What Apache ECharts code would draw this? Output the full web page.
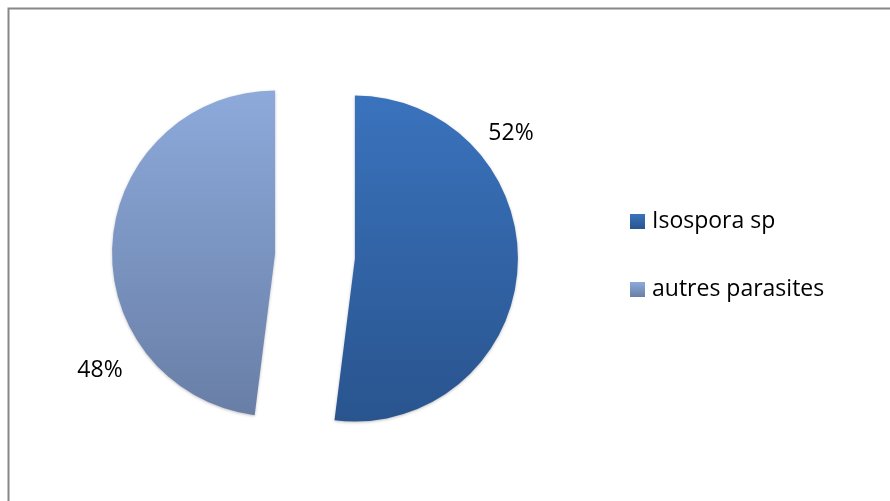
<!DOCTYPE html>
<html>
<head>
<meta charset="utf-8">
<script src="https://cdn.jsdelivr.net/npm/echarts@6/dist/echarts.min.js"></script>
<style>
  html, body { margin: 0; padding: 0; background: #fff; }
  #chart { width: 890px; height: 501px; }
</style>
</head>
<body>
<div id="chart"></div>
<script>
// Parasite shares
const categories = ['Isospora sp', 'autres parasites'];
const shares = [52, 48];

// vertical gradients per slice (top -> bottom)
const sliceColors = [
  ['#3A73BD', '#29548E'],
  ['#8DAADB', '#687EA6']
];
// anchors for the percentage texts
const labelAnchors = [
  { x: 511, y: 133 },
  { x: 100, y: 370 }
];

const FONT = '"Open Sans", Lato, sans-serif';

const chart = echarts.init(document.getElementById('chart'), null, { renderer: 'canvas' });

const data = categories.map((name, i) => ({
  name: name,
  value: shares[i],
  selected: true,
  itemStyle: {
    color: new echarts.graphic.LinearGradient(0, 0, 0, 1, [
      { offset: 0, color: sliceColors[i][0] },
      { offset: 1, color: sliceColors[i][1] }
    ])
  }
}));

const percentTexts = shares.map((v, i) => ({
  type: 'text',
  silent: true,
  x: labelAnchors[i].x,
  y: labelAnchors[i].y,
  style: {
    text: v + '%',
    fontFamily: FONT,
    fontSize: 23,
    fill: '#000',
    align: 'center',
    verticalAlign: 'middle'
  }
}));

chart.setOption({
  animation: false,
  backgroundColor: '#ffffff',
  graphic: [{
    type: 'rect',
    silent: true,
    shape: { x: 8.5, y: 8.5, width: 1000, height: 1000 },
    style: { fill: 'none', stroke: '#888888', lineWidth: 2 }
  }].concat(percentTexts),
  legend: {
    orient: 'vertical',
    left: 630,
    top: 210,
    padding: 0,
    itemWidth: 15,
    itemHeight: 15,
    itemGap: 45,
    icon: 'rect',
    textStyle: { fontFamily: FONT, fontSize: 23, color: '#000', padding: [0, 0, 0, 2] },
    data: categories
  },
  series: [{
    type: 'pie',
    center: [315, 256],
    radius: [0, 163],
    startAngle: 90,
    clockwise: true,
    selectedMode: 'multiple',
    selectedOffset: 40,
    itemStyle: {
      shadowBlur: 3,
      shadowColor: 'rgba(0,0,0,0.25)',
      shadowOffsetY: 1
    },
    emphasis: { disabled: true },
    label: { show: false },
    labelLine: { show: false },
    data: data
  }]
});
</script>
</body>
</html>
